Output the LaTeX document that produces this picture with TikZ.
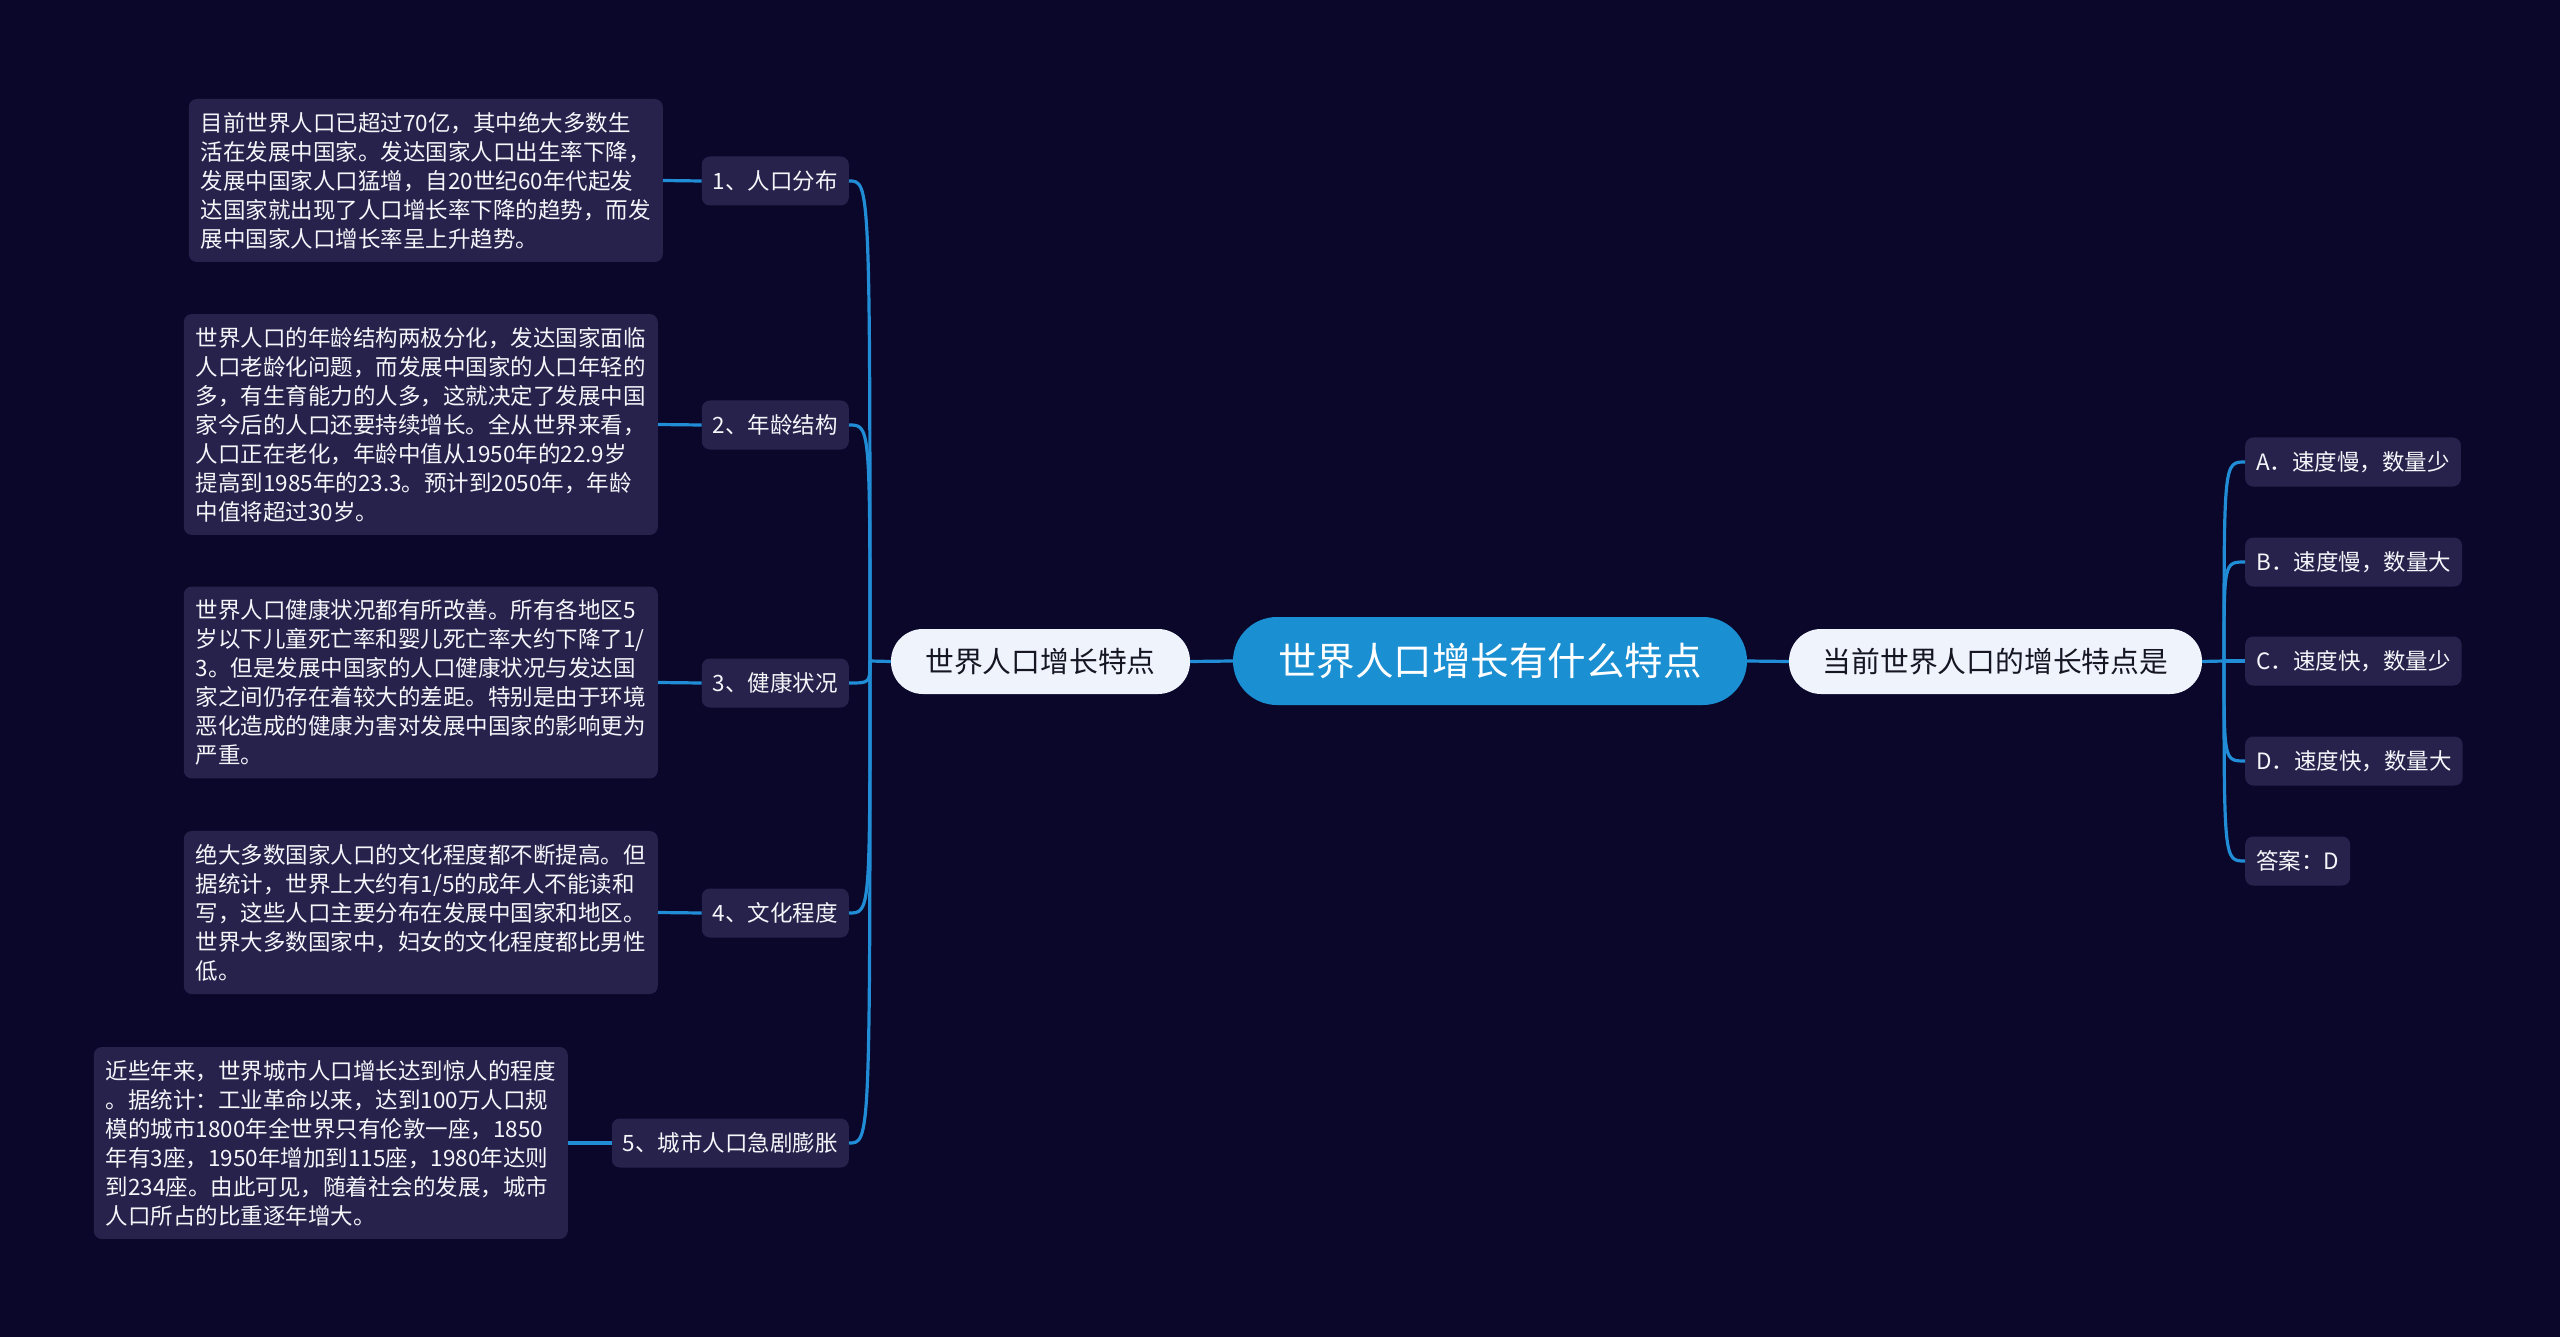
\documentclass[tikz,border=0pt]{standalone}
\usepackage{fontspec}
\setmainfont{Noto Sans CJK SC}
\definecolor{bgc}{RGB}{10,7,42}
\definecolor{boxc}{RGB}{38,34,76}
\definecolor{linec}{RGB}{33,141,214}
\definecolor{rootc}{RGB}{26,143,210}
\definecolor{lightc}{RGB}{238,243,252}
\definecolor{darktxt}{RGB}{22,22,34}
\definecolor{lighttxt}{RGB}{245,245,250}
\tikzset{
  rootnode/.style={fill=rootc, text=white, rounded corners=44pt, minimum width=514pt, minimum height=88pt, inner sep=0pt, font=\fontsize{38.5}{44}\selectfont},
  mainnode/.style={fill=lightc, text=darktxt, rounded corners=32pt, minimum height=65pt, inner sep=0pt, font=\fontsize{28.8}{34}\selectfont},
  subnode/.style={fill=boxc, text=lighttxt, rounded corners=8pt, minimum height=49pt, inner xsep=11pt, inner ysep=0pt, font=\fontsize{22.5}{29}\selectfont},
  textbox/.style={fill=boxc, text=lighttxt, rounded corners=8pt, align=left, inner xsep=12pt, inner ysep=13pt, font=\fontsize{22.5}{29}\selectfont},
  conn/.style={draw=linec, line width=3.2pt}
}
\begin{document}
\begin{tikzpicture}[x=1pt,y=-1pt]
\fill[bgc] (0,0) rectangle (2560,1337);
\useasboundingbox (0,0) rectangle (2560,1337);

% central nodes
\node[rootnode] (root) at (1490,661) {世界人口增长有什么特点};
\node[mainnode, minimum width=299pt] (L) at (1040.5,661.5) {世界人口增长特点};
\node[mainnode, minimum width=413pt] (R) at (1995.5,661.5) {当前世界人口的增长特点是};

% left sub nodes
\node[subnode, anchor=east] (s1) at (849,181) {1、人口分布};
\node[subnode, anchor=east] (s2) at (849,425) {2、年龄结构};
\node[subnode, anchor=east] (s3) at (849,683) {3、健康状况};
\node[subnode, anchor=east] (s4) at (849,913) {4、文化程度};
\node[subnode, anchor=east] (s5) at (849,1143) {5、城市人口急剧膨胀};

% left text boxes
\node[textbox, anchor=east] (t1) at (663,180.5) {目前世界人口已超过70亿，其中绝大多数生\\活在发展中国家。发达国家人口出生率下降，\\发展中国家人口猛增，自20世纪60年代起发\\达国家就出现了人口增长率下降的趋势，而发\\展中国家人口增长率呈上升趋势。};
\node[textbox, anchor=east] (t2) at (658,424.5) {世界人口的年龄结构两极分化，发达国家面临\\人口老龄化问题，而发展中国家的人口年轻的\\多，有生育能力的人多，这就决定了发展中国\\家今后的人口还要持续增长。全从世界来看，\\人口正在老化，年龄中值从1950年的22.9岁\\提高到1985年的23.3。预计到2050年，年龄\\中值将超过30岁。};
\node[textbox, anchor=east] (t3) at (658,682.5) {世界人口健康状况都有所改善。所有各地区5\\岁以下儿童死亡率和婴儿死亡率大约下降了1/\\3。但是发展中国家的人口健康状况与发达国\\家之间仍存在着较大的差距。特别是由于环境\\恶化造成的健康为害对发展中国家的影响更为\\严重。};
\node[textbox, anchor=east] (t4) at (658,912.5) {绝大多数国家人口的文化程度都不断提高。但\\据统计，世界上大约有1/5的成年人不能读和\\写，这些人口主要分布在发展中国家和地区。\\世界大多数国家中，妇女的文化程度都比男性\\低。};
\node[textbox, anchor=east] (t5) at (568,1143) {近些年来，世界城市人口增长达到惊人的程度\\。据统计：工业革命以来，达到100万人口规\\模的城市1800年全世界只有伦敦一座，1850\\年有3座，1950年增加到115座，1980年达则\\到234座。由此可见，随着社会的发展，城市\\人口所占的比重逐年增大。};

% right option nodes
\node[subnode, anchor=west] (oa) at (2245,462) {A．速度慢，数量少};
\node[subnode, anchor=west] (ob) at (2245,562) {B．速度慢，数量大};
\node[subnode, anchor=west] (oc) at (2245,661) {C．速度快，数量少};
\node[subnode, anchor=west] (od) at (2245,761) {D．速度快，数量大};
\node[subnode, anchor=west] (oe) at (2245,861) {答案：D};

% connectors
\coordinate (jl) at (870,661);
\coordinate (jr) at (2224,661);
\draw[conn] (root.west) -- (L.east);
\draw[conn] (root.east) -- (R.west);
\draw[conn] (L.west) -- (jl);
\draw[conn] (R.east) -- (jr);
\foreach \s in {s1,s2,s3,s4,s5}{
  \draw[conn] (jl) .. controls (jl |- \s.east) .. (\s.east);
}
\foreach \o in {oa,ob,oc,od,oe}{
  \draw[conn] (jr) .. controls (jr |- \o.west) .. (\o.west);
}
\draw[conn] (s1.west) -- (t1.east);
\draw[conn] (s2.west) -- (t2.east);
\draw[conn] (s3.west) -- (t3.east);
\draw[conn] (s4.west) -- (t4.east);
\draw[conn] (s5.west) -- (t5.east);
\end{tikzpicture}
\end{document}
